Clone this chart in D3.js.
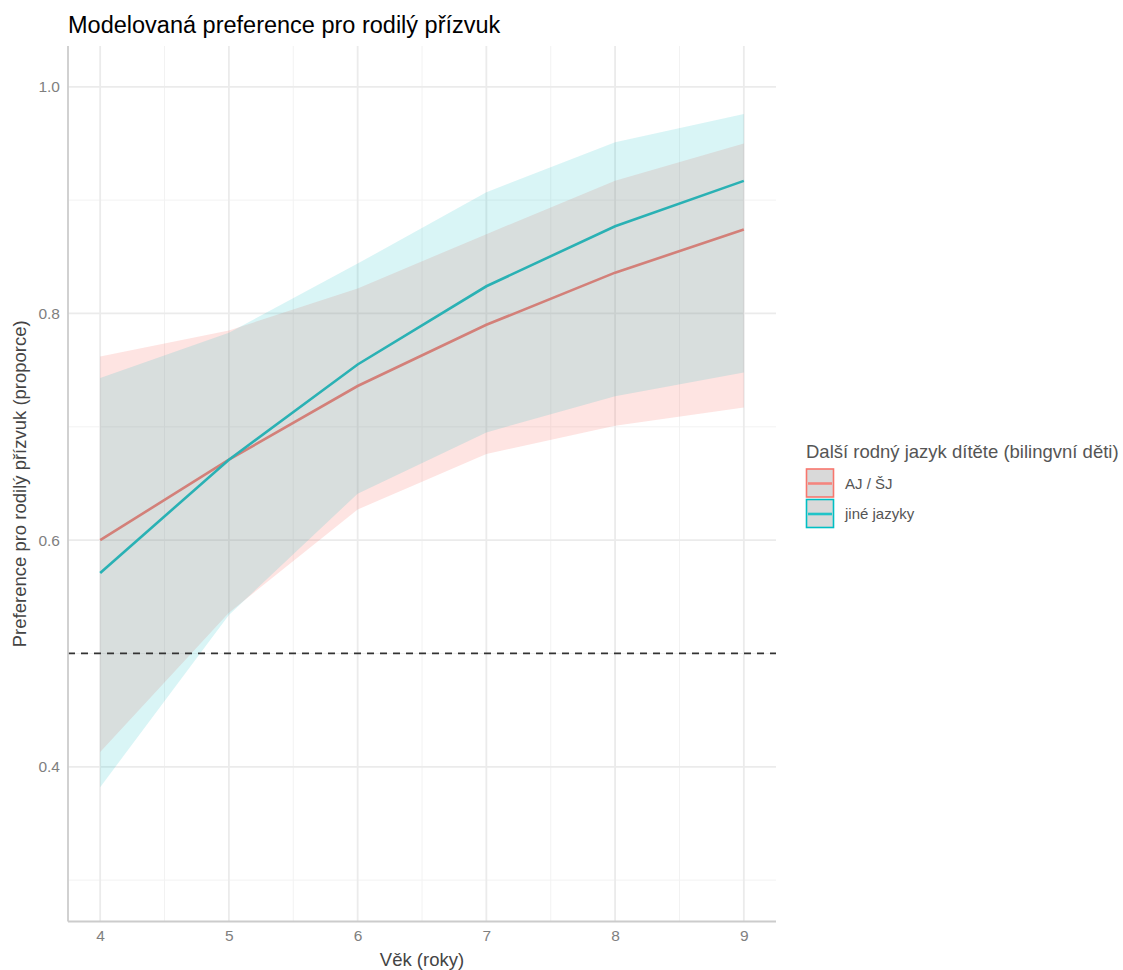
<!DOCTYPE html>
<html><head><meta charset="utf-8">
<script src="https://cdn.jsdelivr.net/npm/d3@7"></script>
<style>body{margin:0;background:#fff;} svg{display:block;font-family:"Liberation Sans",Arial,sans-serif;}</style>
</head><body>
<svg id="c" width="1123" height="970"></svg>
<script>
const ages = [4,5,6,7,8,9];
const groups = ["AJ / ŠJ","jiné jazyky"];
const colors = ["#F8766D","#00BFC4"];
const fitAJ   = [0.600,0.671,0.736,0.790,0.836,0.874];
const lowerAJ = [0.413,0.536,0.627,0.676,0.701,0.717];
const upperAJ = [0.762,0.785,0.822,0.870,0.917,0.950];
const fitOther   = [0.571,0.671,0.755,0.824,0.877,0.917];
const lowerOther = [0.382,0.534,0.641,0.695,0.727,0.748];
const upperOther = [0.743,0.783,0.844,0.907,0.951,0.976];
const xTicks = [4,5,6,7,8,9];
const xMinor = [4.5,5.5,6.5,7.5,8.5];
const yTicks = [0.4,0.6,0.8,1.0];
const yMinor = [0.3,0.5,0.7,0.9];
const refLine = 0.5;
const title = "Modelovaná preference pro rodilý přízvuk";
const xLabel = "Věk (roky)";
const yLabel = "Preference pro rodilý přízvuk (proporce)";
const legendTitle = "Další rodný jazyk dítěte (bilingvní děti)";

const series = [
  {name:groups[0], color:colors[0], fit:fitAJ, lo:lowerAJ, hi:upperAJ, alpha:0.2},
  {name:groups[1], color:colors[1], fit:fitOther, lo:lowerOther, hi:upperOther, alpha:0.15}
];

const svg = d3.select("#c");
const L=68, R=776, T=46, B=921.5;
const x = d3.scaleLinear().domain([3.75,9.25]).range([L,R]);
const y = d3.scaleLinear().domain([0.2635,1.036]).range([B,T]);

const g = svg.append("g");
// grid
g.selectAll(".xm").data(xMinor).join("line").attr("x1",d=>x(d)).attr("x2",d=>x(d)).attr("y1",T).attr("y2",B).attr("stroke","#f2f2f2").attr("stroke-width",1);
g.selectAll(".ym").data(yMinor).join("line").attr("y1",d=>y(d)).attr("y2",d=>y(d)).attr("x1",L).attr("x2",R).attr("stroke","#f2f2f2").attr("stroke-width",1);
g.selectAll(".xM").data(xTicks).join("line").attr("x1",d=>x(d)).attr("x2",d=>x(d)).attr("y1",T).attr("y2",B).attr("stroke","#ebebeb").attr("stroke-width",1.8);
g.selectAll(".yM").data(yTicks).join("line").attr("y1",d=>y(d)).attr("y2",d=>y(d)).attr("x1",L).attr("x2",R).attr("stroke","#ebebeb").attr("stroke-width",1.8);

// lines (under ribbons)
const line = d3.line().x((d,i)=>x(ages[i])).y(d=>y(d));
series.forEach(s=>{
  g.append("path").attr("d",line(s.fit)).attr("fill","none").attr("stroke",s.color).attr("stroke-width",2.6);
});
// ribbons
const area = d3.area().x((d,i)=>x(ages[i])).y0(d=>y(d[0])).y1(d=>y(d[1]));
series.forEach(s=>{
  const data = s.lo.map((v,i)=>[v,s.hi[i]]);
  g.append("path").attr("d",area(data)).attr("fill",s.color).attr("fill-opacity",s.alpha);
});
// ref line
g.append("line").attr("x1",L).attr("x2",R).attr("y1",y(refLine)).attr("y2",y(refLine)).attr("stroke","#333").attr("stroke-width",1.8).attr("stroke-dasharray","7,6");

// axis lines
svg.append("line").attr("x1",L).attr("x2",L).attr("y1",T).attr("y2",B).attr("stroke","#cccccc").attr("stroke-width",1.8);
svg.append("line").attr("x1",L).attr("x2",R).attr("y1",B).attr("y2",B).attr("stroke","#cccccc").attr("stroke-width",1.8);

// ticks via axes
const xa = svg.append("g").attr("transform",`translate(0,${B})`).call(d3.axisBottom(x).tickValues(xTicks).tickFormat(d3.format("d")).tickSize(0).tickPadding(8));
const ya = svg.append("g").attr("transform",`translate(${L},0)`).call(d3.axisLeft(y).tickValues(yTicks).tickFormat(d3.format(".1f")).tickSize(0).tickPadding(8));
[xa,ya].forEach(a=>{a.attr("font-size",null).attr("font-family",null); a.select(".domain").remove(); a.selectAll("text").attr("fill","#7f7f7f").attr("font-size","15.5px");});

// titles
svg.append("text").attr("x",L).attr("y",33).text(title).attr("font-size","23.5px").attr("fill","#000");
svg.append("text").attr("x",(L+R)/2).attr("y",966).attr("text-anchor","middle").text(xLabel).attr("font-size","18.5px").attr("fill","#444");
svg.append("text").attr("transform",`translate(26,${(T+B)/2}) rotate(-90)`).attr("text-anchor","middle").text(yLabel).attr("font-size","18.5px").attr("fill","#444");

// legend
const lg = svg.append("g");
lg.append("text").attr("x",806).attr("y",458).text(legendTitle).attr("font-size","18.5px").attr("fill","#555");
series.forEach((s,i)=>{
  const ky = 469 + i*30.5;
  lg.append("rect").attr("x",806.5).attr("y",ky).attr("width",27).attr("height",28).attr("fill","#d9d9d9").attr("stroke",s.color).attr("stroke-width",1.6);
  lg.append("line").attr("x1",808).attr("x2",832).attr("y1",ky+14.5).attr("y2",ky+14.5).attr("stroke",s.color).attr("stroke-width",2.6).attr("stroke-opacity",0.85);
  lg.append("text").attr("x",845).attr("y",ky+19.5).text(s.name).attr("font-size","15px").attr("fill","#555");
});
</script>
</body></html>
